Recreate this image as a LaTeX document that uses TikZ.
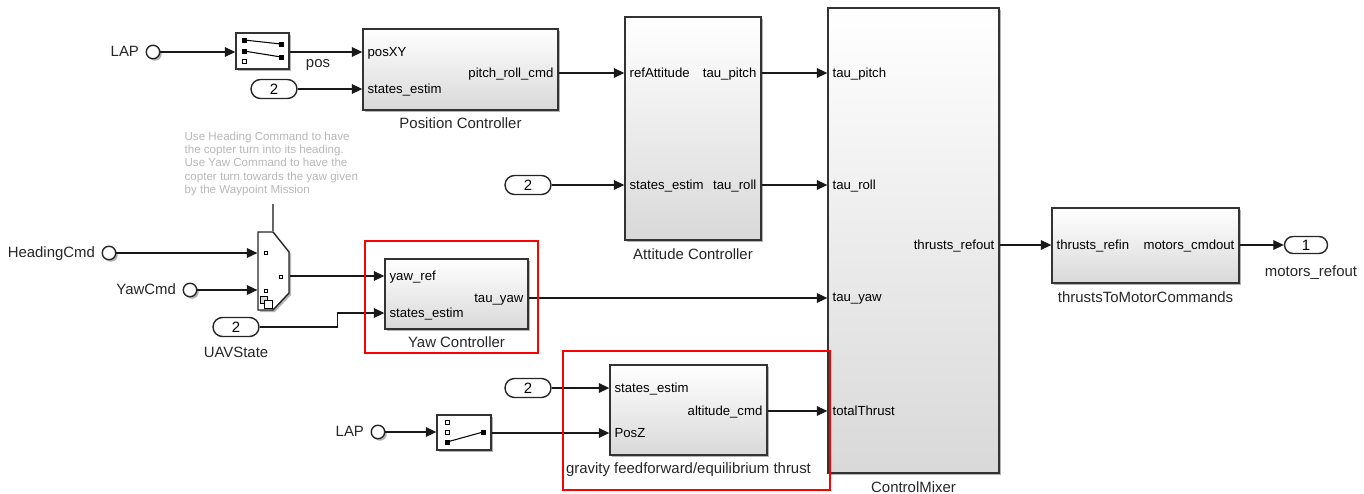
\documentclass[tikz,border=0pt]{standalone}
\usepackage{fontspec}
\setmainfont{Liberation Sans}
\usepackage{tikz}
\usetikzlibrary{arrows.meta,positioning,shapes.misc,shadows,calc}

\begin{document}
\begin{tikzpicture}[x=0.02cm,y=-0.02cm,>={Triangle[length=6pt,width=5.5pt]},line width=0.7pt]
  \tikzstyle{shad}=[drop shadow={shadow xshift=0.04cm,shadow yshift=-0.04cm,opacity=0.6}]
  \tikzstyle{blk}=[rectangle,draw=black!80,line width=0.8pt,inner sep=0pt,top color=white,bottom color=black!15,shad]
  \tikzstyle{swbox}=[rectangle,draw=black!80,line width=0.8pt,fill=white,inner sep=0pt,minimum width=1.06cm,minimum height=0.72cm,shad]
  \tikzstyle{inport}=[circle,draw=black!85,line width=0.8pt,fill=white,inner sep=0pt,minimum size=0.27cm,shad]
  \tikzstyle{tag}=[rounded rectangle,draw=black!85,line width=0.8pt,fill=white,inner sep=0pt,minimum width=0.92cm,minimum height=0.38cm,font=\fontsize{8.5}{10}\selectfont]
  \tikzstyle{port}=[inner sep=0pt,font=\fontsize{7.5}{9}\selectfont,text height=6pt,text depth=0.6pt]
  \tikzstyle{lbl}=[inner sep=0pt,font=\fontsize{8.5}{10}\selectfont,text=black!85,text height=6.8pt,text depth=1.8pt]
  \tikzstyle{note}=[inner sep=0pt,align=left,font=\fontsize{6.6}{7.65}\selectfont,text=black!28]
  \tikzstyle{sig}=[->,draw=black!90]
  \tikzstyle{pin}=[fill=black,draw=black,line width=0.3pt]
  \tikzstyle{hilite}=[draw=red,line width=1.3pt]

  \useasboundingbox (0,0) rectangle (1364,493);

  % subsystems
  \node[blk,minimum width=3.90cm,minimum height=1.62cm] (posctl) at (460.5,69.5) {};
  \node[blk,minimum width=2.72cm,minimum height=4.46cm] (attctl) at (693,128.5) {};
  \node[blk,minimum width=3.42cm,minimum height=9.30cm] (mixer) at (913.5,240.5) {};
  \node[blk,minimum width=3.74cm,minimum height=1.50cm] (t2m) at (1145.5,245.5) {};
  \node[blk,minimum width=2.86cm,minimum height=1.40cm] (yawctl) at (456.5,294) {};
  \node[blk,minimum width=3.14cm,minimum height=1.80cm] (gravff) at (688.5,410) {};

  \node[lbl,below=0.1cm of posctl] (posctl-lbl) {Position Controller};
  \node[lbl,below=0.12cm of attctl] (attctl-lbl) {Attitude Controller};
  \node[lbl,below=0.12cm of mixer] (mixer-lbl) {ControlMixer};
  \node[lbl,below=0.12cm of t2m] (t2m-lbl) {thrustsToMotorCommands};
  \node[lbl,below=0.11cm of yawctl] (yawctl-lbl) {Yaw Controller};
  \node[lbl,below=0.11cm of gravff] (gravff-lbl) {gravity feedforward/equilibrium thrust};

  % port names
  \node[port,anchor=west] (pc-in1) at (367,52) {posXY};
  \node[port,anchor=west] (pc-in2) at (367,89) {states\_estim};
  \node[port,anchor=east] (pc-out) at (554,73) {pitch\_roll\_cmd};
  \node[port,anchor=west] (att-in1) at (629,73) {refAttitude};
  \node[port,anchor=west] (att-in2) at (629,185) {states\_estim};
  \node[port,anchor=east] (att-o1) at (757,73) {tau\_pitch};
  \node[port,anchor=east] (att-o2) at (757,185) {tau\_roll};
  \node[port,anchor=west] (mix-in1) at (832,73) {tau\_pitch};
  \node[port,anchor=west] (mix-in2) at (832,185) {tau\_roll};
  \node[port,anchor=west] (mix-in3) at (832,297) {tau\_yaw};
  \node[port,anchor=west] (mix-in4) at (832,411) {totalThrust};
  \node[port,anchor=east] (mix-out) at (995,245) {thrusts\_refout};
  \node[port,anchor=west] (t2m-in) at (1056,245) {thrusts\_refin};
  \node[port,anchor=east] (t2m-out) at (1235,245) {motors\_cmdout};
  \node[port,anchor=west] (yaw-in1) at (389,276) {yaw\_ref};
  \node[port,anchor=west] (yaw-in2) at (389,313) {states\_estim};
  \node[port,anchor=east] (yaw-out) at (524,298) {tau\_yaw};
  \node[port,anchor=west] (grav-in1) at (614,388) {states\_estim};
  \node[port,anchor=west] (grav-in2) at (614,433) {PosZ};
  \node[port,anchor=east] (grav-out) at (763,411) {altitude\_cmd};

  % inputs and tags
  \node[inport] (lap1) at (153,52) {};
  \node[lbl,left=0.12cm of lap1] (lap1-lbl) {LAP};
  \node[inport] (lap2) at (378,432) {};
  \node[lbl,left=0.12cm of lap2] (lap2-lbl) {LAP};
  \node[inport] (hdgcmd) at (109,253) {};
  \node[lbl,left=0.12cm of hdgcmd] (hdgcmd-lbl) {HeadingCmd};
  \node[inport] (yawcmd) at (190,290) {};
  \node[lbl,left=0.12cm of yawcmd] (yawcmd-lbl) {YawCmd};

  \node[tag] (from1) at (274,89) {2};
  \node[tag] (from2) at (528,185) {2};
  \node[tag] (from3) at (236,327) {2};
  \node[lbl,below=0.15cm of from3] (from3-lbl) {UAVState};
  \node[tag] (from4) at (528,388) {2};
  \node[tag,minimum width=0.86cm,minimum height=0.34cm] (out1) at (1306,245) {1};
  \node[lbl,below=0.2cm of out1,xshift=0.1cm] (out1-lbl) {motors\_refout};

  % selector switches
  \node[swbox] (sw1) at (262.5,51) {};
  \draw[line width=0.6pt] (244,40) -- (281,44) (244,51) -- (281,57);
  \foreach \p in {(244,40),(244,51),(281,44),(281,57)}
    \draw[pin] \p ++(-2,-2) rectangle ++(4,4);
  \draw[line width=0.4pt] (242,59) rectangle ++(4,4);

  \node[swbox,minimum width=1.08cm,minimum height=0.70cm] (sw2) at (464,432.5) {};
  \draw[line width=0.6pt] (447,442) -- (483,432);
  \foreach \p in {(447,442),(483,432)}
    \draw[pin] \p ++(-2,-2) rectangle ++(4,4);
  \foreach \p in {(447,422),(447,432)}
    \draw[line width=0.4pt] \p ++(-2,-2) rectangle ++(4,4);

  % multiport switch
  \node[inner sep=0pt,minimum width=0.62cm,minimum height=1.56cm] (mps) at (273.5,271) {};
  \draw[draw=black!85,line width=0.8pt,fill=white,shad] (258,232) -- (273,232) -- (289,252) -- (289,293) -- (273,310) -- (258,310) -- cycle;
  \foreach \p in {(266,253),(266,291),(281,277)}
    \draw[line width=0.4pt] \p ++(-1.5,-1.5) rectangle ++(3,3);
  \draw[line width=0.4pt,fill=black!15] (260,296) rectangle (267,303);
  \draw[line width=0.4pt,fill=white] (264,300) rectangle (272,308);
  \node[note,anchor=north west] (note) at (184,131) {Use Heading Command to have\\the copter turn into its heading.\\Use Yaw Command to have the\\copter turn towards the yaw given\\by the Waypoint Mission};
  \coordinate (mps-ctl) at (273,204);
  \draw[draw=black!60,line width=1.1pt] (mps-ctl) -- (mps.north -| mps-ctl);

  % signals
  \draw[sig] (lap1) -- (sw1.west |- lap1);
  \draw[sig] (sw1.east |- pc-in1) -- (posctl.west |- pc-in1);
  \node[lbl] (pos-lbl) at (318,63) {pos};
  \draw[sig] (from1.east) -- (posctl.west |- from1);
  \draw[sig] (posctl.east |- pc-out) -- (attctl.west |- pc-out);
  \draw[sig] (attctl.east |- att-o1) -- (mixer.west |- att-o1);
  \draw[sig] (from2.east) -- (attctl.west |- from2);
  \draw[sig] (attctl.east |- att-o2) -- (mixer.west |- att-o2);
  \draw[sig] (hdgcmd) -- (mps.west |- hdgcmd);
  \draw[sig] (yawcmd) -- (mps.west |- yawcmd);
  \draw[sig] (mps.east |- yaw-in1) -- (yawctl.west |- yaw-in1);
  \draw[sig] (from3.east) -- ++(78,0) |- (yawctl.west |- yaw-in2);
  \draw[sig] (yawctl.east |- yaw-out) -- (mixer.west |- yaw-out);
  \draw[sig] (from4.east) -- (gravff.west |- from4);
  \draw[sig] (lap2) -- (sw2.west |- lap2);
  \draw[sig] (sw2.east |- grav-in2) -- (gravff.west |- grav-in2);
  \draw[sig] (gravff.east |- grav-out) -- (mixer.west |- grav-out);
  \draw[sig] (mixer.east |- mix-out) -- (t2m.west |- mix-out);
  \draw[sig] (t2m.east |- t2m-out) -- (out1.west);

  % highlights
  \draw[hilite] (365,241) rectangle (538,353);
  \draw[hilite] (563,351) rectangle (830,490);
\end{tikzpicture}
\end{document}
